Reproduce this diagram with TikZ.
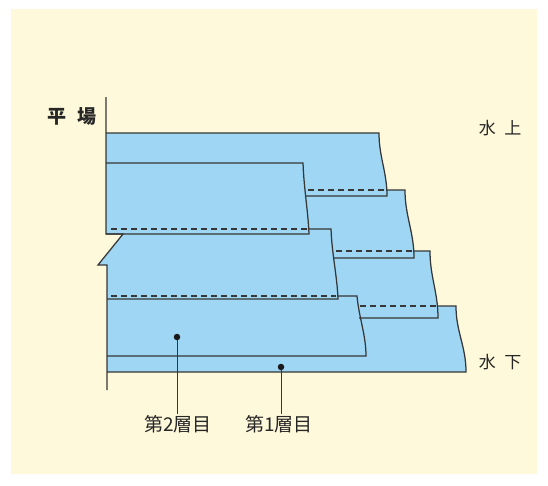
\documentclass[tikz,border=0pt]{standalone}
\usepackage{fontspec}
\newfontfamily\jp{Noto Sans CJK JP}
\definecolor{cream}{RGB}{255,249,219}
\definecolor{water}{RGB}{158,214,244}
\definecolor{ink}{RGB}{55,55,55}
\tikzset{
  edge/.style={draw=ink, line width=1.25pt, line join=miter},
  hidden/.style={draw=ink, line width=1.1pt, dash pattern=on 6pt off 4pt},
  dot/.style={circle, fill=black!90, inner sep=0pt, minimum size=6.5pt},
  lbl/.style={font=\jp\fontsize{17}{17}\selectfont, text=black!85, inner sep=1pt},
  leader/.style={draw=ink, line width=1pt}
}
\begin{document}
\begin{tikzpicture}[x=1pt,y=-1pt]
\useasboundingbox (0,0) rectangle (548,485);
\fill[cream] (11,9) rectangle (537,474);
% blue fill (union of all layers)
\path[fill=water]
  (106,133) -- (379,133) .. controls (379,157) and (387,172) .. (387,196) -- (387,190)
  -- (405,190) .. controls (405,216) and (414,232) .. (414,258) -- (414,251)
  -- (430,251) .. controls (430,277) and (438,292) .. (438,318) -- (438,306)
  -- (456,306) .. controls (456,332) and (466,346) .. (466,372)
  -- (107,372) -- (107,265) -- (98,265) -- (123,234) -- (106,234) -- cycle;
% outer outline
\draw[edge] (106,97) -- (106,234) -- (123,234) -- (98,265) -- (107,265) -- (107,390);
\draw[edge] (106,133) -- (379,133) .. controls (379,157) and (387,172) .. (387,196) -- (305,196);
\draw[edge] (387,190) -- (405,190) .. controls (405,216) and (414,232) .. (414,258) -- (334,258);
\draw[edge] (413,251) -- (430,251) .. controls (430,277) and (438,292) .. (438,318) -- (359,318);
\draw[edge] (437,306) -- (456,306) .. controls (456,332) and (466,346) .. (466,372) -- (107,372);
% inner blocks
\draw[edge] (106,163) -- (303,163) .. controls (304,190) and (308,210) .. (309,234) -- (106,234);
\draw[edge] (309,229) -- (331,229) .. controls (332,255) and (337,275) .. (338,299) -- (107,299);
\draw[edge] (338,296) -- (357,296) .. controls (359,318) and (366,335) .. (366,356) -- (107,356);
% hidden (dashed) continuations
\draw[hidden] (308,190) -- (386,190);
\draw[hidden] (111,229) -- (307,229);
\draw[hidden] (336,251) -- (412,251);
\draw[hidden] (111,296) -- (336,296);
\draw[hidden] (360,306) -- (436,306);
% labels
\node[lbl, font=\jp\bfseries\fontsize{19}{19}\selectfont] (hiraba) at (72,116) {平\hspace{0.55em}場};
\node[lbl] (suijo) at (500,128) {水\hspace{0.5em}上};
\node[lbl] (suika) at (500,362) {水\hspace{0.5em}下};
\node[dot] (d2) at (177,337) {};
\node[dot] (d1) at (281,367) {};
\node[lbl, font=\jp\fontsize{19}{19}\selectfont] (t2) at (178,424) {第2層目};
\node[lbl, font=\jp\fontsize{19}{19}\selectfont] (t1) at (279,424) {第1層目};
\draw[leader] (d2) -- (d2 |- t2.north);
\draw[leader] (d1) -- (d1 |- t1.north);
\end{tikzpicture}
\end{document}
